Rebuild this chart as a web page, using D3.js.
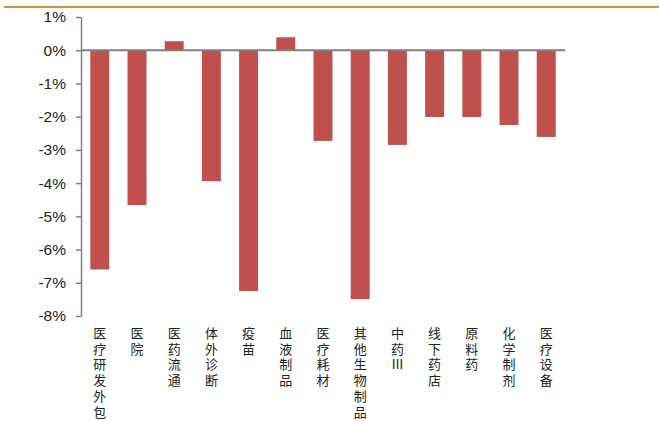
<!DOCTYPE html>
<html>
<head>
<meta charset="utf-8">
<script src="https://cdn.jsdelivr.net/npm/d3@7"></script>
<style>
  body { margin: 0; background: #fff; }
</style>
</head>
<body>
<div id="chart"></div>
<script>
// categories and values (%)
const categories = ["医疗研发外包", "医院", "医药流通", "体外诊断", "疫苗", "血液制品", "医疗耗材",
    "其他生物制品", "中药Ⅲ", "线下药店", "原料药", "化学制剂", "医疗设备"];
const values = [-6.6, -4.66, 0.27, -3.94, -7.25, 0.39, -2.73, -7.49, -2.85, -2.01, -2.01, -2.25, -2.61];
const yTicks = [1, 0, -1, -2, -3, -4, -5, -6, -7, -8];

const width = 659, height = 421;
const margin = {top: 17, left: 81, right: 94, bottom: 105};

const svg = d3.select("#chart")
    .append("svg")
    .attr("width", width)
    .attr("height", height);

// gold rule across the top
svg.append("line")
    .attr("x1", 4).attr("x2", width)
    .attr("y1", 7).attr("y2", 7)
    .attr("stroke", "#c8963e")
    .attr("stroke-width", 2);

const x = d3.scaleBand()
    .domain(categories)
    .range([margin.left, width - margin.right])
    .paddingInner(0.49)
    .paddingOuter(0.25);

const y = d3.scaleLinear()
    .domain([-8, 1])
    .range([316, margin.top]);

// bars
svg.selectAll("rect.bar")
    .data(values)
    .enter()
    .append("rect")
    .attr("class", "bar")
    .attr("x", (d, i) => x(categories[i]))
    .attr("y", d => y(Math.max(0, d)))
    .attr("width", x.bandwidth())
    .attr("height", d => Math.abs(y(d) - y(0)))
    .attr("fill", "#c0504d");

// y axis
const yAxis = svg.append("g")
    .attr("transform", `translate(${margin.left},0)`)
    .call(d3.axisLeft(y)
        .tickValues(yTicks)
        .tickFormat(d => d + "%")
        .tickSize(5)
        .tickPadding(10)
        .tickSizeOuter(0));
yAxis.select(".domain").attr("stroke", "#808080").attr("stroke-width", 1.5);
yAxis.selectAll(".tick line").attr("stroke", "#808080").attr("stroke-width", 1.5);
yAxis.selectAll(".tick text")
    .attr("font-family", "Liberation Sans, Arial, sans-serif")
    .attr("font-size", 15.5)
    .attr("fill", "#222");

// zero line
svg.append("line")
    .attr("x1", margin.left)
    .attr("x2", width - margin.right)
    .attr("y1", y(0)).attr("y2", y(0))
    .attr("stroke", "#808080")
    .attr("stroke-width", 2);

// vertical category labels, one character per line
const labels = svg.append("g");
categories.forEach(c => {
    Array.from(c).forEach((ch, j) => {
        labels.append("text")
            .attr("x", x(c) + x.bandwidth() / 2)
            .attr("y", 338 + j * 15.7)
            .attr("text-anchor", "middle")
            .attr("font-family", "Noto Sans CJK SC, sans-serif")
            .attr("font-size", 13)
            .attr("fill", "#222")
            .text(ch);
    });
});
</script>
</body>
</html>
